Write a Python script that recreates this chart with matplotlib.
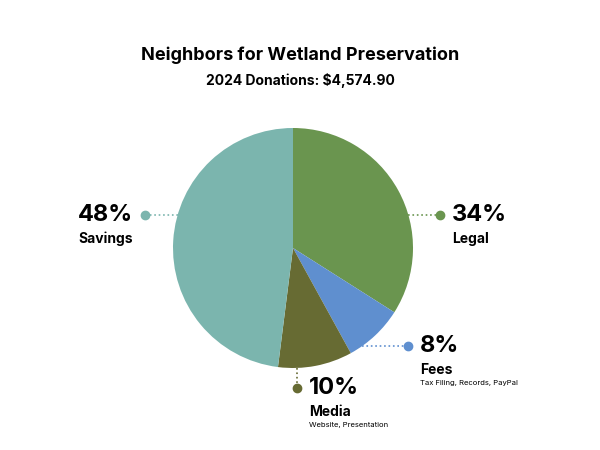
import matplotlib
matplotlib.use("Agg")
import matplotlib.pyplot as plt

categories = ["Legal", "Fees", "Media", "Savings"]
percents = [34, 8, 10, 48]
subnotes = ["", "Tax Filing, Records, PayPal", "Website, Presentation", ""]
colors = ["#6a954f", "#5f8fcf", "#676b33", "#7bb5ae"]

plt.rcParams['font.family'] = ['Inter', 'DejaVu Sans']
fig = plt.figure(figsize=(6, 4.5), dpi=100)
fig.patch.set_facecolor("white")

ax = fig.add_axes([293/600 - 0.2, 1 - 248/450 - 120/450, 0.4, 240/450])
ax.pie(percents, colors=colors, startangle=90, counterclock=False,
       wedgeprops=dict(linewidth=0))
ax.set_xlim(-1, 1); ax.set_ylim(-1, 1)
ax.set_aspect('equal')

ov = fig.add_axes([0, 0, 1, 1])
ov.set_xlim(0, 600); ov.set_ylim(450, 0); ov.axis('off')

fig.text(0.5, 1 - 55/450, "Neighbors for Wetland Preservation", ha='center', va='center',
         fontsize=13, fontweight='bold')
fig.text(0.5, 1 - 80/450, "2024 Donations: $4,574.90", ha='center', va='center',
         fontsize=10, fontweight='bold')

leaders = {
    "Legal": ((408, 215), (440, 215)),
    "Fees": ((362, 346), (408, 346)),
    "Media": ((297, 368), (297, 388)),
    "Savings": ((178, 215), (145, 215)),
}
for c, col in zip(categories, colors):
    (x0, y0), (x1, y1) = leaders[c]
    ov.plot([x0, x1], [y0, y1], ls=':', color=col, lw=1.2)
    ov.plot([x1], [y1], 'o', color=col, ms=6)

def lab(x, y, p, name, note, ha):
    ov.text(x, y, f"{p}%", ha=ha, va='center', fontsize=17, fontweight='bold')
    ov.text(x, y + 24, name, ha=ha, va='center', fontsize=10, fontweight='bold')
    if note:
        ov.text(x, y + 37, note, ha=ha, va='center', fontsize=5.5)

lab(452, 215, percents[0], categories[0], subnotes[0], 'left')
lab(420, 346, percents[1], categories[1], subnotes[1], 'left')
lab(309, 388, percents[2], categories[2], subnotes[2], 'left')
lab(133, 215, percents[3], categories[3], subnotes[3], 'right')

fig.savefig("out.png", dpi=100)
